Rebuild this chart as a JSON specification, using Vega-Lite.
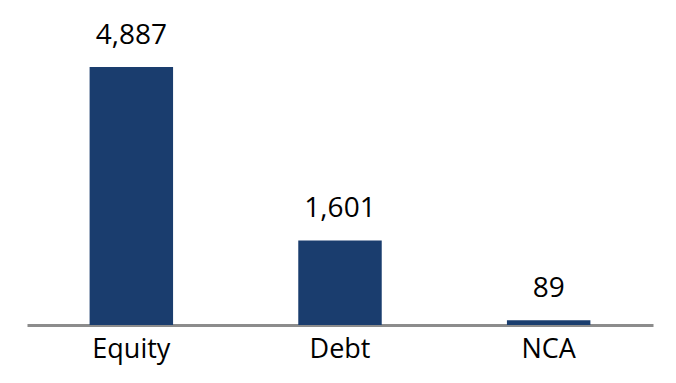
{
  "$schema": "https://vega.github.io/schema/vega-lite/v6.json",
  "width": 626,
  "height": 325,
  "autosize": {"type": "none"},
  "padding": {"left": 27, "top": 0, "right": 23, "bottom": 58},
  "background": "white",
  "config": {"view": {"stroke": null}},
  "data": {"values": [
    {"category": "Equity", "value": 4887},
    {"category": "Debt", "value": 1601},
    {"category": "NCA", "value": 89}
  ]},
  "encoding": {
    "x": {"field": "category", "type": "nominal", "sort": null,
      "scale": {"paddingInner": 0.6, "paddingOuter": 0.3},
      "axis": {"title": null, "labelAngle": 0, "ticks": false, "domainColor": "#8c8c8c", "domainWidth": 3,
        "labelFont": "Open Sans", "labelFontSize": 27, "labelColor": "#000000", "labelPadding": 11, "grid": false}},
    "y": {"field": "value", "type": "quantitative", "scale": {"domain": [0, 6156], "nice": false}, "axis": null}
  },
  "layer": [
    {"mark": {"type": "bar", "color": "#1a3d6e"}},
    {"mark": {"type": "text", "baseline": "alphabetic", "dy": -23, "font": "Open Sans", "fontSize": 28, "color": "#000000"},
     "encoding": {"text": {"field": "value", "type": "quantitative", "format": ","}}}
  ]
}
